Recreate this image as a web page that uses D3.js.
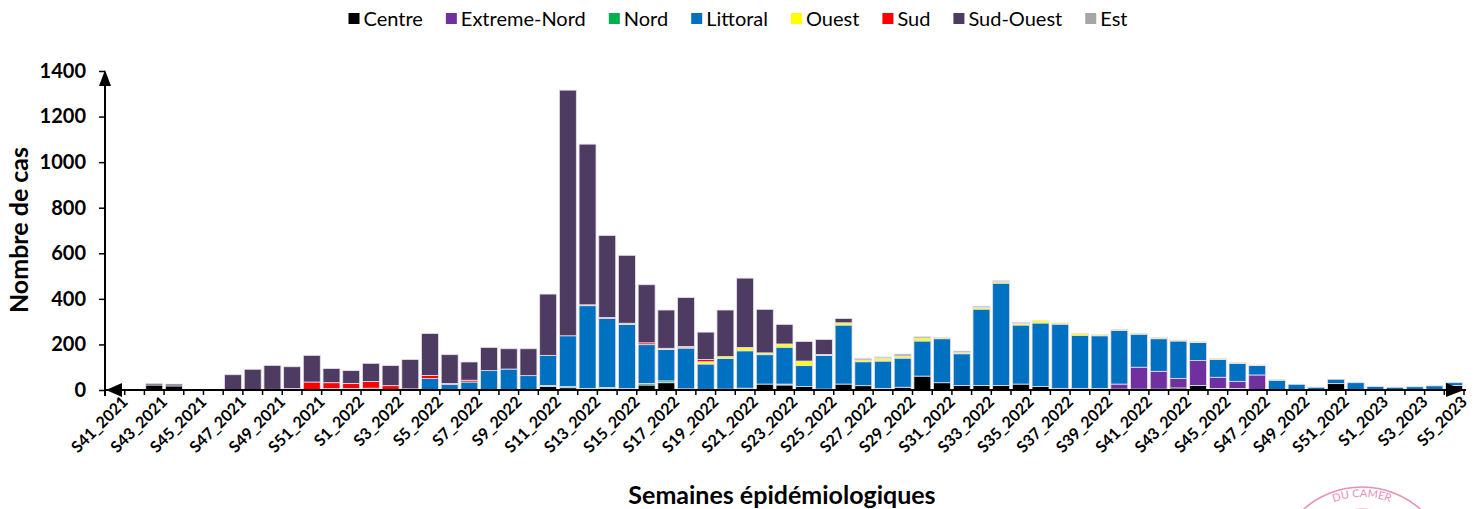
<!DOCTYPE html>
<html>
<head>
<meta charset="utf-8">
<script src="https://cdn.jsdelivr.net/npm/d3@7"></script>
<style>
  body { margin: 0; background: #fff; }
  text { font-family: Lato, "Open Sans", sans-serif; }
</style>
</head>
<body>
<div id="chart"></div>
<script>
// weeks S41_2021 .. S5_2023
var weeks = [];
for (var w = 41; w <= 52; w++) weeks.push("S" + w + "_2021");
for (var w = 1; w <= 52; w++) weeks.push("S" + w + "_2022");
for (var w = 1; w <= 5; w++) weeks.push("S" + w + "_2023");

var regions = ["Centre", "Extreme-Nord", "Nord", "Littoral", "Ouest", "Sud", "Sud-Ouest", "Est"];
var colors  = ["#000000", "#7030a0", "#00b050", "#0070c0", "#ffff00", "#ff0000", "#4d3b62", "#a6a6a6"];

// values per week
var centre      = [0,0,22,18,0,0,0,0,0,0,0,0, 0,0,0,0,0,0,0,0,0,0,15,10,7,6,2,22,32,2,3,2,3,26,22,15,4,26,19,7,12,61,32,20,20,20,26,15,7,7,7,4,4,4,9,20,7,7,2,0,0,0,28,2, 0,0,0,2,20];
var extremeNord = [0,0,0,0,0,0,0,0,0,0,0,0, 0,0,0,0,0,0,0,0,0,0,0,0,0,0,0,0,0,0,0,0,0,0,0,0,0,0,0,0,0,0,0,0,0,0,0,0,0,0,0,22,96,78,42,109,49,31,64,0,0,0,0,0, 0,0,0,0,0];
var nord        = [0,0,0,0,0,0,0,0,0,0,0,0, 0,0,0,0,0,0,0,0,0,0,5,5,0,5,4,7,8,3,0,2,5,0,4,0,0,0,0,0,0,0,0,0,0,0,0,0,0,0,0,0,0,0,0,0,0,0,0,0,0,0,0,0, 0,0,0,0,0];
var littoral    = [0,0,0,0,0,0,0,0,0,0,0,6, 7,8,0,5,50,24,35,85,92,63,132,223,363,303,282,170,138,179,111,135,164,129,162,92,148,259,105,120,128,154,193,139,335,449,259,279,282,233,231,236,145,143,164,79,78,79,41,43,25,12,19,30, 15,12,14,16,12];
var ouest       = [0,0,0,0,0,0,0,0,0,0,0,0, 0,0,0,0,0,0,0,0,0,0,0,0,0,0,2,0,2,2,10,8,13,8,14,20,4,10,9,10,9,13,6,6,7,6,7,10,5,9,5,4,4,5,4,4,5,4,3,2,0,0,0,0, 0,0,0,0,0];
var sud         = [0,0,0,0,0,0,0,0,3,6,35,26, 22,29,19,0,14,5,8,0,0,0,0,0,4,4,3,8,3,5,10,0,2,0,0,0,0,0,0,0,0,0,0,0,0,0,0,0,0,0,0,0,0,0,0,0,0,0,0,0,0,0,0,0, 0,0,0,0,0];
var sudOuest    = [0,0,7,8,0,2,67,91,105,96,117,62, 56,80,88,129,184,126,80,102,89,118,269,1078,705,360,298,255,168,215,120,204,304,191,86,86,66,19,5,3,0,0,0,0,0,0,0,0,0,0,0,0,0,0,0,0,0,0,0,0,0,0,0,0, 0,0,0,0,0];
var est         = [0,0,0,0,0,0,0,0,0,0,0,0, 0,0,0,0,0,0,0,0,0,0,0,0,0,0,0,0,0,0,0,0,0,0,0,0,0,0,2,5,9,6,0,6,6,5,5,0,0,0,0,0,0,0,0,0,0,0,0,0,0,0,0,0, 0,0,0,0,0];

var yTicks = [0, 200, 400, 600, 800, 1000, 1200, 1400];

var series = [centre, extremeNord, nord, littoral, ouest, sud, sudOuest, est];
var table = weeks.map(function(wk, i) {
  var row = { week: wk };
  regions.forEach(function(r, j) { row[r] = series[j][i]; });
  return row;
});

var W = 1474, H = 509;
var plot = { left: 105, right: 1464, top: 71, bottom: 390 };

var svg = d3.select("#chart").append("svg")
    .attr("width", W).attr("height", H);

var x = d3.scaleBand().domain(weeks).range([plot.left, plot.right]).paddingInner(0.14).paddingOuter(0.07);
var y = d3.scaleLinear().domain([0, 1400]).range([plot.bottom, plot.top]);

var stacked = d3.stack().keys(regions)(table);

// bars
svg.append("g").selectAll("g")
  .data(stacked)
  .enter().append("g")
    .attr("fill", function(d, i) { return colors[i]; })
  .selectAll("rect")
  .data(function(d) { return d; })
  .enter().append("rect")
    .filter(function(d) { return d[1] - d[0] > 0; })
    .attr("x", function(d) { return x(d.data.week); })
    .attr("y", function(d) { return y(d[1]); })
    .attr("width", x.bandwidth())
    .attr("height", function(d) { return y(d[0]) - y(d[1]); })
    .attr("stroke", "#e6e0ee")
    .attr("stroke-width", 0.8);

// y axis
var yAxis = svg.append("g")
    .attr("transform", "translate(" + plot.left + ",0)")
    .call(d3.axisLeft(y).tickValues(yTicks).tickFormat(d3.format("d")).tickSize(6).tickPadding(13));
yAxis.select(".domain").attr("d", "M0," + (plot.bottom + 6) + "V" + (plot.top + 2)).attr("stroke-width", 2);
yAxis.selectAll(".tick line").attr("stroke-width", 1.5);
yAxis.selectAll(".tick text").style("font-size", "20px").style("font-weight", "bold").attr("fill", "#000");
svg.append("path")
    .attr("d", "M" + plot.left + "," + (plot.top - 1) + "l-6,16h12z")
    .attr("fill", "#000");

// x axis: ticks between categories
var step = x.step();
var xg = svg.append("g");
xg.append("line")
    .attr("x1", plot.left).attr("x2", plot.right + 2)
    .attr("y1", plot.bottom).attr("y2", plot.bottom)
    .attr("stroke", "#000").attr("stroke-width", 2);
xg.selectAll("line.tk")
  .data(weeks)
  .enter().append("line")
    .attr("class", "tk")
    .attr("x1", function(d) { return x(d) - (step - x.bandwidth()) / 2 + step; })
    .attr("x2", function(d) { return x(d) - (step - x.bandwidth()) / 2 + step; })
    .attr("y1", plot.bottom).attr("y2", plot.bottom + 5)
    .attr("stroke", "#000").attr("stroke-width", 1.5);
// arrows on the ends of the x axis
svg.append("path").attr("d", "M" + (plot.left + 1) + "," + plot.bottom + "l16,-7v14z").attr("fill", "#000");
svg.append("path").attr("d", "M" + (plot.right) + "," + plot.bottom + "l-18,-7v14z").attr("fill", "#000");

// x tick labels, every other week
xg.selectAll("text")
  .data(weeks.filter(function(d, i) { return i % 2 === 0; }))
  .enter().append("text")
    .attr("transform", function(d) {
      return "translate(" + (x(d) + x.bandwidth() / 2 + 10) + "," + (plot.bottom + 9) + ") rotate(-45)";
    })
    .attr("text-anchor", "end")
    .attr("dy", "0.35em")
    .style("font-size", "16px")
    .style("font-weight", "bold")
    .text(function(d) { return d; });

// axis titles
svg.append("text")
    .attr("x", 782).attr("y", 504)
    .attr("text-anchor", "middle")
    .style("font-size", "25px").style("font-weight", "bold")
    .text("Semaines épidémiologiques");
svg.append("text")
    .attr("transform", "translate(28,230) rotate(-90)")
    .attr("text-anchor", "middle")
    .style("font-size", "25px").style("font-weight", "bold")
    .text("Nombre de cas");

// legend
var legend = svg.append("g");
var lx = 0;
regions.forEach(function(r, i) {
  var g = legend.append("g").attr("transform", "translate(" + lx + ",0)");
  g.append("rect").attr("x", 0).attr("y", 13).attr("width", 11).attr("height", 11).attr("fill", colors[i]);
  var t = g.append("text").attr("x", 15).attr("y", 26).style("font-size", "20px").text(r);
  lx += 15 + t.node().getComputedTextLength() + 23;
});
lx -= 23;
legend.attr("transform", "translate(" + (738 - lx / 2) + ",0)");

// faint stamp in the bottom right corner
var stamp = svg.append("g").attr("opacity", 0.6);
stamp.append("circle").attr("cx", 1362).attr("cy", 575).attr("r", 88)
    .attr("fill", "none").attr("stroke", "#d9468a").attr("stroke-width", 1.5);
stamp.append("circle").attr("cx", 1362).attr("cy", 575).attr("r", 66)
    .attr("fill", "none").attr("stroke", "#d9468a").attr("stroke-width", 1);
stamp.append("path").attr("id", "arcpath")
    .attr("d", "M1284,575 A78,78 0 0 1 1440,575").attr("fill", "none");
stamp.append("text").style("font-size", "11px").attr("fill", "#d9468a")
  .append("textPath").attr("href", "#arcpath").attr("startOffset", "50%").attr("text-anchor", "middle")
    .text("DU CAMER");
</script>
</body>
</html>
